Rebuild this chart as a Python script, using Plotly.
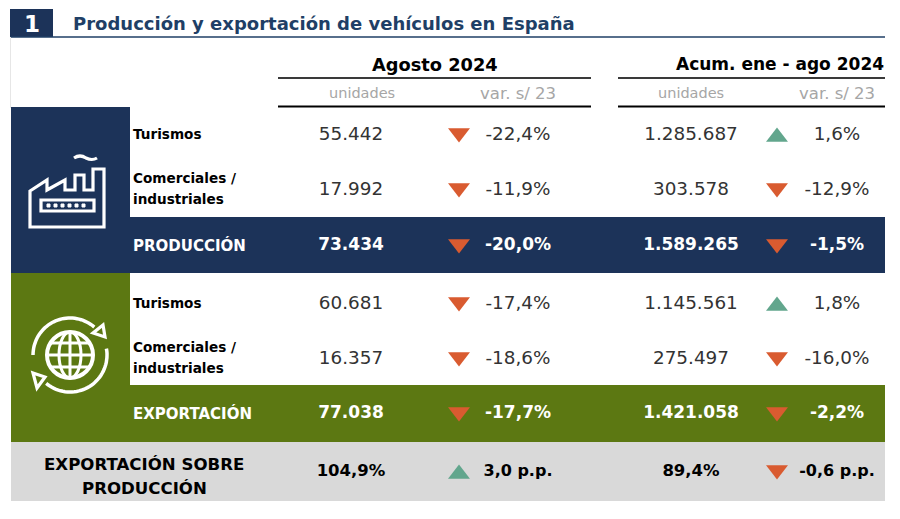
import numpy as np
import plotly.graph_objects as go

# values
filas = ["Turismos", "Comerciales /<br>industriales", "PRODUCCIÓN",
         "Turismos", "Comerciales /<br>industriales", "EXPORTACIÓN",
         "EXPORTACIÓN SOBRE<br>PRODUCCIÓN"]
agosto_unidades = ["55.442", "17.992", "73.434", "60.681", "16.357", "77.038", "104,9%"]
agosto_var = ["-22,4%", "-11,9%", "-20,0%", "-17,4%", "-18,6%", "-17,7%", "3,0 p.p."]
acum_unidades = ["1.285.687", "303.578", "1.589.265", "1.145.561", "275.497", "1.421.058", "89,4%"]
acum_var = ["1,6%", "-12,9%", "-1,5%", "1,8%", "-16,0%", "-2,2%", "-0,6 p.p."]

titulo = "Producción y exportación de vehículos en España"
periodos = ["Agosto 2024", "Acum. ene - ago 2024"]
subtitulos = ["unidades", "var. s/ 23"]

NAVY = "#1c3359"
GREEN = "#5c7812"
GREY = "#d9d9d9"
RED = "#d95b30"
TEAL = "#62a68d"
FONT = "DejaVu Sans"

# layout, in page pixels
fila_y = [134, 189, 245, 303, 358, 413, 471]
col_uni = [351, 691]
col_tri = [459, 777]
col_var = [518, 837]
col_lin = [(278, 591), (618, 885)]
tipo = ["normal", "normal", "band", "normal", "normal", "band", "total"]


def rect(x0, y0, x1, y1, color):
    return dict(type="rect", x0=x0, y0=y0, x1=x1, y1=y1, fillcolor=color,
                line_width=0, layer="below")


def line(x0, y0, x1, y1, color, width):
    return dict(type="line", x0=x0, y0=y0, x1=x1, y1=y1,
                line=dict(color=color, width=width), layer="below")


def icon(path, width=3.2, fill=None):
    return dict(type="path", path=path, fillcolor=fill, layer="above",
                line=dict(color="white", width=width))


def arc(cx, cy, r, a0, a1):
    a = np.radians(np.linspace(a0, a1, 40))
    pts = [f"{cx + r * np.cos(t):.1f},{cy - r * np.sin(t):.1f}" for t in a]
    return "M" + " L".join(pts)


shapes = [
    rect(10, 9, 53, 37, NAVY),
    line(10, 37, 885, 37, "#1f3f66", 1.5),
    line(10.5, 37, 10.5, 108, "#e6e6e6", 1),
    rect(11, 107, 130, 273, NAVY),
    rect(11, 217, 885, 273, NAVY),
    rect(11, 273, 130, 442, GREEN),
    rect(11, 385, 885, 442, GREEN),
    rect(11, 442, 885, 501, GREY),
]
for x0, x1 in col_lin:
    shapes.append(line(x0, 78, x1, 78, "#3a3a3a", 1.8))
    shapes.append(line(x0, 106.5, x1, 106.5, "#000000", 1.8))

# factory icon
shapes += [
    icon("M30,191 L47,180 L47,190 L65,180 L65,190 L75,190 L75,175 L84,175 L84,190 "
         "L93,190 L93,169 L104,169 L104,227 L30,227 Z"),
    icon("M41,200 L94,200 L94,211 L41,211 Z"),
    icon("M74,158 Q80,154 86,158 Q92,161 97,158"),
]
for sx in [47, 54, 61, 68, 75, 82]:
    shapes.append(icon(f"M{sx},204 L{sx + 3},204 L{sx + 3},207 L{sx},207 Z", width=1, fill="white"))

# globe icon
shapes += [
    dict(type="circle", x0=47, y0=332, x1=93, y1=378, layer="above",
         line=dict(color="white", width=4)),
    dict(type="circle", x0=59, y0=332, x1=81, y1=378, layer="above",
         line=dict(color="white", width=3)),
    icon("M70,332 L70,378", 3),
    icon("M47,355 L93,355", 3),
    icon("M51,343 L89,343", 3),
    icon("M51,367 L89,367", 3),
    icon(arc(70, 355, 37, 49, 180), 3.5),
    icon(arc(70, 355, 37, 230, 370), 3.5),
    icon("M103,325 L93,333 L105,337 Z"),
    icon("M33,373 L45,377 L37,388 Z"),
]

annotations = []


def label(x, y, text, size, color, bold=False, anchor="center"):
    annotations.append(dict(x=x, y=y, text=text, showarrow=False, xanchor=anchor,
                            yanchor="middle", align=anchor,
                            font=dict(family=FONT, size=size, color=color,
                                      weight="bold" if bold else "normal")))


label(32, 24, "1", 23, "white", True)
label(71, 23, titulo, 18, "#1f3f66", True, "left")
label(435, 64, periodos[0], 17.8, "black", True)
label(886, 64, periodos[1], 17, "black", True, "right")
for c, v in zip(col_uni, col_var):
    label(c + 11 if c == col_uni[0] else c, 93, subtitulos[0], 14.5, "#a6a6a6")
    label(v, 93, subtitulos[1], 16.5, "#a6a6a6")

for nombre, y, t in zip(filas, fila_y, tipo):
    partes = nombre.split("<br>")
    if t == "total":
        label(144, 464, partes[0], 16.6, "black", True)
        label(144, 488, partes[1], 16.6, "black", True)
    elif t == "band":
        label(131, y, nombre, 15, "white", True, "left")
    elif len(partes) == 2:
        label(131, y - 11, partes[0], 13.6, "black", True, "left")
        label(131, y + 10, partes[1], 13.6, "black", True, "left")
    else:
        label(131, y, nombre, 13.6, "black", True, "left")

fig = go.Figure()

for uni, var, cu, cv, ct in zip([agosto_unidades, acum_unidades], [agosto_var, acum_var],
                                col_uni, col_var, col_tri):
    estilos = {cu: {"normal": 18.4, "band": 17, "total": 16.5},
               cv: {"normal": 18.4, "band": 17, "total": 16}}
    for col, textos in [(cu, uni), (cv, var)]:
        for txt_tipo, color, weight in [("normal", "#333333", "normal"),
                                        ("band", "white", "bold"),
                                        ("total", "black", "bold")]:
            idx = [i for i, t in enumerate(tipo) if t == txt_tipo]
            fig.add_trace(go.Scatter(
                x=[col] * len(idx), y=[fila_y[i] + 1 for i in idx],
                text=[textos[i] for i in idx], mode="text", textposition="middle center",
                textfont=dict(family=FONT, size=estilos[col][txt_tipo], color=color, weight=weight),
                hoverinfo="skip", showlegend=False))
    bajan = [v.startswith("-") for v in var]
    fig.add_trace(go.Scatter(
        x=[ct] * len(var), y=[y + (-1 if b else 3) for y, b in zip(fila_y, bajan)],
        mode="markers", hoverinfo="skip", showlegend=False,
        marker=dict(size=19, symbol=["triangle-down" if b else "triangle-up" for b in bajan],
                    color=[RED if b else TEAL for b in bajan], line_width=0)))

fig.update_layout(
    width=900, height=519, margin=dict(l=0, r=0, t=0, b=0),
    paper_bgcolor="white", plot_bgcolor="white", showlegend=False,
    xaxis=dict(range=[0, 900], visible=False, fixedrange=True),
    yaxis=dict(range=[519, 0], visible=False, fixedrange=True),
    shapes=shapes, annotations=annotations,
)

# the page's default body margin would push the figure 8px off
fig.write_html("out.html", config={"displayModeBar": False},
               post_script="document.body.style.margin = '0';")
